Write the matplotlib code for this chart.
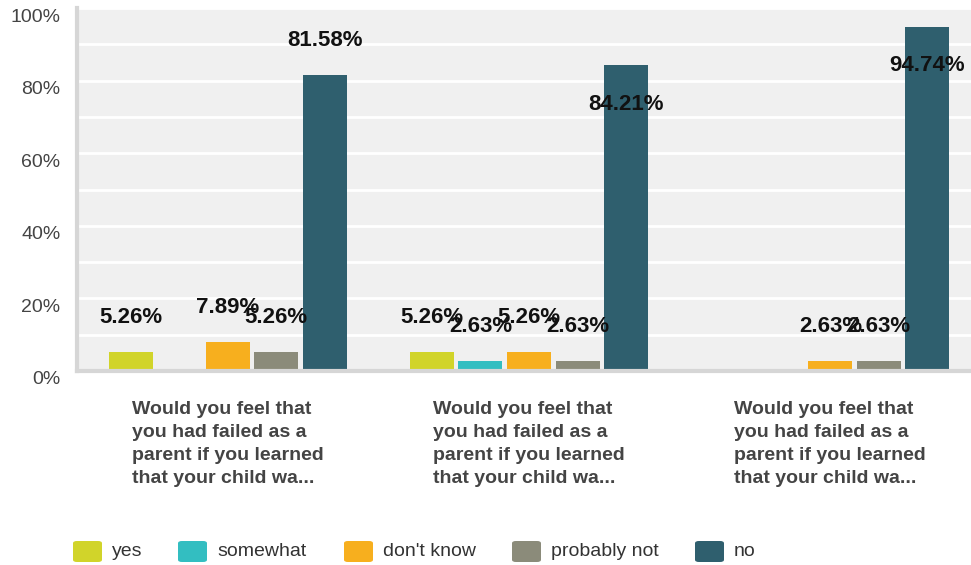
import matplotlib
matplotlib.use("Agg")
import matplotlib.pyplot as plt
import matplotlib.transforms as mtransforms
import numpy as np
from matplotlib.patches import FancyBboxPatch

plt.rcParams['font.family'] = ['Liberation Sans', 'DejaVu Sans']

# data
questions = [
    "Would you feel that\nyou had failed as a\nparent if you learned\nthat your child wa...",
    "Would you feel that\nyou had failed as a\nparent if you learned\nthat your child wa...",
    "Would you feel that\nyou had failed as a\nparent if you learned\nthat your child wa...",
]
answers = ["yes", "somewhat", "don't know", "probably not", "no"]
yes = [5.26, 5.26, 0]
somewhat = [0, 2.63, 0]
dont_know = [7.89, 5.26, 2.63]
probably_not = [5.26, 2.63, 2.63]
no = [81.58, 84.21, 94.74]
y_ticks = [0, 20, 40, 60, 80, 100]
y_tick_labels = ["0%", "20%", "40%", "60%", "80%", "100%"]

colors = ["#d1d42a", "#33bec1", "#f7af1e", "#8b8b7a", "#2f5f6e"]
series = [yes, somewhat, dont_know, probably_not, no]

W, H = 971, 565
fig = plt.figure(figsize=(W / 100, H / 100), dpi=100)
ax = fig.add_axes([77 / W, 194 / H, 904 / W, 363 / H])
ax.set_facecolor("#f0f0f0")

x = np.arange(len(questions))
bar_w = 0.146
step = 0.161

for i, (vals, col) in enumerate(zip(series, colors)):
    pos = x + (i - 2) * step
    ax.bar(pos, vals, width=bar_w, color=col, zorder=3)
    for px, v in zip(pos, vals):
        if v == 0:
            continue
        # label above the bar if it fits, else inside near the top
        ly = v + 9.5 if v + 9.5 <= 92 else v - 10.7
        ax.text(px, ly, f"{v:.2f}%", ha="center", va="center",
                fontsize=16, fontweight="bold", color="#111111", zorder=4)

ax.set_xlim(-0.5, len(questions) - 0.5)
ax.set_ylim(0, 100)
ax.set_yticks(y_ticks)
ax.set_yticklabels(y_tick_labels, fontsize=14, color="#444444")
ax.set_yticks(np.arange(0, 101, 10), minor=True)
ax.tick_params(axis="y", which="both", length=0, pad=12)
ax.grid(axis="y", which="both", color="white", linewidth=2, zorder=1)
ax.set_xticks([])

# tick labels sit a little below their gridlines
shift = mtransforms.ScaledTranslation(0, -7 / 100, fig.dpi_scale_trans)
for lab in ax.get_yticklabels():
    lab.set_transform(lab.get_transform() + shift)

for s in ["top", "right"]:
    ax.spines[s].set_visible(False)
for s in ["left", "bottom"]:
    ax.spines[s].set_color("#d6d6d6")
    ax.spines[s].set_linewidth(3)
    ax.spines[s].set_zorder(5)

for xi, q in zip(x, questions):
    ax.text(xi, -8.2, q, ha="center", va="top", multialignment="left",
            fontsize=14, fontweight="bold", color="#444444", linespacing=1.48,
            transform=ax.transData)

# legend
leg_sq = [73, 178, 344, 512, 695]
for sx, lab, col in zip(leg_sq, answers, colors):
    fig.patches.append(FancyBboxPatch((sx / W, (565 - 562) / H), 29 / W, 21 / H,
                                      boxstyle="round,pad=0,rounding_size=0.004",
                                      transform=fig.transFigure, facecolor=col,
                                      edgecolor="none"))
    fig.text((sx + 39) / W, (565 - 551) / H, lab, ha="left", va="center",
             fontsize=14, color="#333333")

fig.savefig("out.png", dpi=100)
